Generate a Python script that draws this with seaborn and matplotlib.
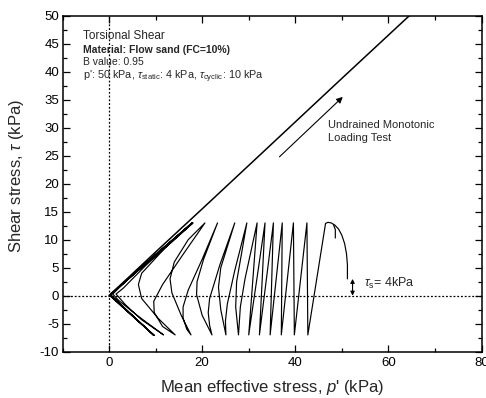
import numpy as np
import pandas as pd
import matplotlib
matplotlib.use("Agg")
import matplotlib.pyplot as plt
from matplotlib.ticker import MultipleLocator
import seaborn as sns

# ---- data ----
# undrained monotonic loading path
mono_p = [0.0, 10.0, 20.0, 32.5, 50.0, 64.5]
mono_tau = [0.0, 7.8, 15.5, 25.2, 38.8, 50.0]

# cyclic stress path (p', tau) in kPa
cyc_p = [51.2, 51.2, 51.0, 50.6, 50.0, 49.3, 48.5, 47.7, 47.0, 46.5,
         42.7, 42.5, 39.8, 39.6, 37.0, 37.2, 34.6, 35.3, 32.3, 33.5,
         30.0, 31.8,
         29.2, 28.2, 27.8,
         27.2, 27.4, 29.6,
         27.0, 25.4, 25.0, 25.1,
         24.0, 23.5, 24.0, 27.0,
         23.8, 21.6, 21.3, 21.6, 22.1,
         20.0, 18.8, 18.9, 20.3, 23.3,
         20.0, 17.0, 15.9, 15.9, 16.7, 17.6,
         15.5, 13.5, 13.1, 14.0, 17.0, 20.6,
         16.0, 11.5, 9.6, 9.7, 11.5, 14.2,
         10.5, 7.0, 6.3, 7.0, 12.0, 18.0,
         8.0, 3.0, 1.5, 3.5, 7.0, 11.7,
         6.0, 2.0, 0.8, 6.0, 18.0,
         5.0, 0.5, 0.4, 4.5, 9.7,
         3.0, 0.3, 9.0, 17.8,
         0.4, 0.2, 9.7,
         0.2, 17.9,
         0.3, 9.6,
         0.2]
cyc_tau = [3.0, 5.5, 7.5, 9.3, 10.8, 11.9, 12.6, 13.0, 13.1, 12.9,
           -7.0, 13.0, -7.0, 13.0, -7.0, 13.0, -7.0, 13.0, -7.0, 13.0,
           -7.0, 13.0,
           3.0, -2.0, -7.0,
           -2.0, 2.5, 13.0,
           4.5, -1.5, -4.5, -7.0,
           -2.5, 1.5, 5.0, 13.0,
           5.5, -0.5, -3.0, -5.3, -7.0,
           -3.5, 0.2, 2.5, 6.5, 13.0,
           6.5, 1.0, -2.0, -4.0, -6.0, -7.0,
           -3.5, 0.5, 3.0, 6.0, 10.0, 13.0,
           7.5, 2.0, -1.0, -3.0, -5.5, -7.0,
           -4.0, -0.5, 2.0, 4.0, 8.5, 13.0,
           5.5, 1.3, 0.3, -1.6, -4.3, -7.0,
           -3.5, -0.8, 0.3, 4.6, 13.0,
           3.6, 0.3, 0.1, -3.2, -7.1,
           -2.0, 0.1, 6.6, 13.0,
           0.4, 0.0, -7.1,
           0.1, 13.0,
           0.2, -7.1,
           0.0]

# small hook near the first peak
hook_p = [48.2, 48.6, 48.6]
hook_tau = [12.7, 11.8, 10.3]

x_ticks = [0, 20, 40, 60, 80]
y_ticks = [-10, -5, 0, 5, 10, 15, 20, 25, 30, 35, 40, 45, 50]

# ---- style ----
sns.set_theme(style="ticks")
plt.rcParams["font.family"] = ["Liberation Sans", "DejaVu Sans"]
plt.rcParams["mathtext.fontset"] = "custom"
plt.rcParams["mathtext.rm"] = "Liberation Sans"
plt.rcParams["mathtext.it"] = "Liberation Sans:italic"
plt.rcParams["mathtext.bf"] = "Liberation Sans:bold"
plt.rcParams["axes.unicode_minus"] = False

fig = plt.figure(figsize=(4.86, 3.98), dpi=100)
ax = fig.add_axes([62.5 / 486, 46.3 / 398, 419 / 486, 336 / 398])

mono_df = pd.DataFrame({"p": mono_p, "tau": mono_tau})
cyc_df = pd.DataFrame({"p": cyc_p, "tau": cyc_tau})
hook_df = pd.DataFrame({"p": hook_p, "tau": hook_tau})

# reference dotted axes lines
ax.axhline(0, color="black", lw=0.9, ls=(0, (1.5, 1.5)), zorder=1)
ax.axvline(0, color="black", lw=0.9, ls=(0, (1.5, 1.5)), zorder=1)

sns.lineplot(data=mono_df, x="p", y="tau", sort=False, estimator=None,
             color="black", lw=1.1, ax=ax)
sns.lineplot(data=cyc_df, x="p", y="tau", sort=False, estimator=None,
             color="black", lw=0.85, ax=ax)
sns.lineplot(data=hook_df, x="p", y="tau", sort=False, estimator=None,
             color="black", lw=0.85, ax=ax)

ax.set_xlim(-10, 80)
ax.set_ylim(-10, 50)
ax.set_xticks(x_ticks)
ax.set_yticks(y_ticks)
ax.xaxis.set_minor_locator(MultipleLocator(10))
ax.yaxis.set_minor_locator(MultipleLocator(2.5))
ax.tick_params(which="both", direction="in", top=True, right=True,
               colors="black", labelsize=9.5, width=0.9)
ax.tick_params(which="major", length=5, pad=4)
ax.tick_params(which="minor", length=3)
ax.tick_params(axis="y", which="major", pad=2.5)
for s in ax.spines.values():
    s.set_linewidth(1.1)
    s.set_color("black")

ax.set_xlabel(r"Mean effective stress, $p$' (kPa)", fontsize=12)
ax.set_ylabel(r"Shear stress, $\tau$ (kPa)", fontsize=12)
ax.xaxis.set_label_coords(0.5, -0.077)
ax.yaxis.set_label_coords(-0.087, 0.522)

# info text block
ax.text(0.05, 0.931, "Torsional Shear", transform=ax.transAxes,
        fontsize=8.5, va="baseline")
ax.text(0.05, 0.889, "Material: Flow sand (FC=10%)", transform=ax.transAxes,
        fontsize=7.5, fontweight="bold", va="baseline")
ax.text(0.05, 0.852, "B value: 0.95", transform=ax.transAxes,
        fontsize=7.5, va="baseline")
ax.text(0.05, 0.810,
        r"p': 50 kPa, $\tau_{\rm static}$: 4 kPa, $\tau_{\rm cyclic}$: 10 kPa",
        transform=ax.transAxes, fontsize=7.8, va="baseline")

# monotonic annotation
ax.annotate("", xy=(50.2, 35.5), xytext=(36.6, 24.8),
            arrowprops=dict(arrowstyle="-|>", color="black", lw=0.8,
                            mutation_scale=9, shrinkA=0, shrinkB=0))
ax.text(47.1, 30.0, "Undrained Monotonic", fontsize=8, va="baseline")
ax.text(47.1, 27.6, "Loading Test", fontsize=8, va="baseline")

# static shear annotation
ax.annotate("", xy=(52.3, 0.0), xytext=(52.3, 3.0),
            arrowprops=dict(arrowstyle="<|-|>", color="black", lw=0.8,
                            mutation_scale=6, shrinkA=0, shrinkB=0))
ax.text(54.7, 1.5, r"$\tau_{\rm s}$= 4kPa", fontsize=9, va="baseline")

fig.savefig("out.png", dpi=100)
